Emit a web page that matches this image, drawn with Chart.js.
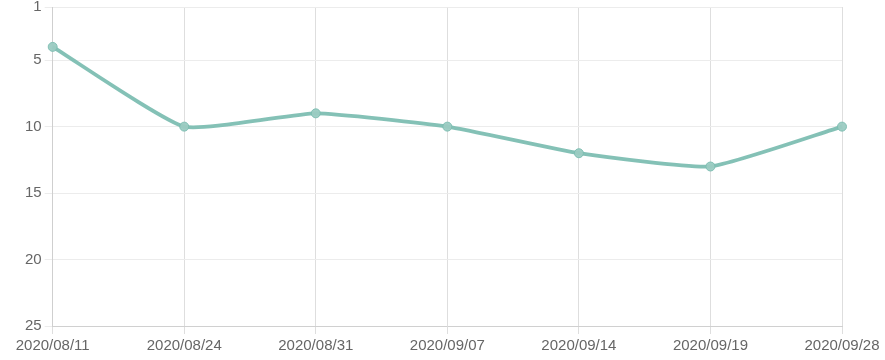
<!DOCTYPE html>
<html>
<head>
<meta charset="utf-8">
<script src="https://cdn.jsdelivr.net/npm/chart.js@4/dist/chart.umd.min.js"></script>
<style>
html,body{margin:0;padding:0;background:#fff;overflow:hidden;}
#wrap{position:relative;width:885px;height:360px;overflow:hidden;}
#c{position:absolute;left:0;top:-5px;}
</style>
</head>
<body>
<div id="wrap"><canvas id="c" width="885" height="363"></canvas></div>
<script>
const categories = ["2020/08/11","2020/08/24","2020/08/31","2020/09/07","2020/09/14","2020/09/19","2020/09/28"];
const rankValues = [4, 10, 9, 10, 12, 13, 10];
const yMin = 1, yMax = 25, yStep = 5;

Chart.defaults.font.family = "'Liberation Sans', Arial, Helvetica, sans-serif";
Chart.defaults.font.size = 15;
Chart.defaults.color = '#666';

new Chart(document.getElementById('c'), {
  type: 'line',
  data: {
    labels: categories,
    datasets: [{
      data: rankValues,
      borderColor: 'rgba(122,188,176,0.92)',
      backgroundColor: 'rgba(150,200,190,0.8)',
      borderWidth: 3.8,
      pointRadius: 4.5,
      pointBorderWidth: 1,
      pointBorderColor: 'rgba(122,188,176,0.9)',
      pointBackgroundColor: 'rgba(155,203,194,0.95)',
      tension: 0.15,
      fill: false
    }]
  },
  options: {
    responsive: false,
    animation: false,
    plugins: { legend: { display: false }, tooltip: { enabled: false } },
    layout: { padding: { left: 22, right: 43, top: 0, bottom: 0 } },
    scales: {
      x: {
        grid: { color: '#dedede', tickLength: 8 },
        border: { color: '#d0d0d0' },
        ticks: { maxRotation: 0, autoSkip: false }
      },
      y: {
        reverse: true,
        min: yMin,
        max: yMax,
        grid: { color: '#ececec', tickLength: 8 },
        border: { color: '#cfcfcf' },
        ticks: { stepSize: yStep }
      }
    }
  }
});
</script>
</body>
</html>
